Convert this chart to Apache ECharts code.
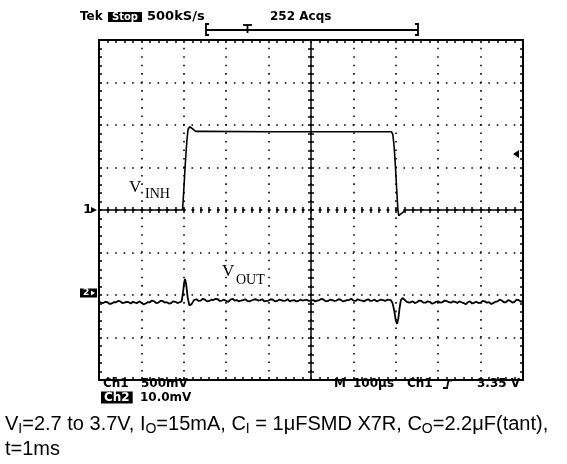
<!DOCTYPE html>
<html>
<head>
<meta charset="utf-8">
<script src="https://cdn.jsdelivr.net/npm/echarts@6/dist/echarts.min.js"></script>
<style>
html,body{margin:0;padding:0;background:#fff}
#main{width:567px;height:464px}
</style>
</head>
<body>
<div id="main"></div>
<script>
// horizontal: time in us (100us/div), vertical: screen divisions
var timeRange = [0, 1000, 100];
var divRange = [-4, 4, 1];

// Ch1 trace (V_INH), [us, div]
var vinhData = [
    [0, 0], [197, 0], [199, 0.3], [203, 1.0], [207, 1.6], [210, 1.9], [214, 1.96], [218, 1.99],
    [222, 1.9], [228, 1.85], [240, 1.85], [400, 1.84], [600, 1.84], [690, 1.84], [693, 1.78],
    [696, 1.5], [699, 1.05], [702, 0.5], [705, 0.0], [707, -0.13], [711, -0.12], [715, -0.07],
    [722, 0], [1000, 0]
];

// Ch2 trace (V_OUT), [us, div]
var voutData = [
    [0, -2.16], [5, -2.18], [10, -2.19], [15, -2.16], [20, -2.17], [25, -2.21], [30, -2.2], [35, -2.17],
    [40, -2.17], [45, -2.14], [50, -2.15], [55, -2.19], [60, -2.18], [65, -2.16], [70, -2.17],
    [75, -2.2], [80, -2.16], [85, -2.18], [90, -2.19], [95, -2.15], [100, -2.18], [105, -2.22],
    [110, -2.2], [115, -2.17], [120, -2.17], [125, -2.13], [130, -2.15], [135, -2.19], [140, -2.18],
    [145, -2.14], [150, -2.14], [155, -2.18], [160, -2.17], [165, -2.2], [170, -2.19], [175, -2.15],
    [180, -2.16], [185, -2.19], [190, -2.17], [195, -2.15],
    [198, -1.95], [201, -1.7], [203, -1.62], [206, -1.78], [209, -2.05], [213, -2.24], [218, -2.22],
    [224, -2.12], [230, -2.1], [235, -2.14], [240, -2.13], [245, -2.09], [250, -2.11], [255, -2.15],
    [260, -2.14], [265, -2.11], [270, -2.12], [275, -2.09], [280, -2.1], [285, -2.14], [290, -2.13],
    [295, -2.11], [300, -2.14], [305, -2.16], [310, -2.11], [315, -2.09], [320, -2.13], [325, -2.12],
    [330, -2.15], [335, -2.13], [340, -2.12], [345, -2.1], [350, -2.14], [355, -2.15], [360, -2.13],
    [365, -2.11], [370, -2.1], [375, -2.13], [380, -2.12], [385, -2.1], [390, -2.15], [395, -2.14],
    [400, -2.13], [405, -2.1], [410, -2.11], [415, -2.15], [420, -2.14], [425, -2.11], [430, -2.12],
    [435, -2.14], [440, -2.13], [445, -2.1], [450, -2.15], [455, -2.13], [460, -2.12], [465, -2.15],
    [470, -2.14], [475, -2.11], [480, -2.13], [485, -2.12], [490, -2.11], [495, -2.14], [500, -2.13],
    [505, -2.12], [510, -2.15], [515, -2.13], [520, -2.12], [525, -2.09], [530, -2.11], [535, -2.15],
    [540, -2.14], [545, -2.11], [550, -2.12], [555, -2.14], [560, -2.13], [565, -2.1], [570, -2.11],
    [575, -2.15], [580, -2.14], [585, -2.12], [590, -2.12], [595, -2.09], [600, -2.13], [605, -2.14],
    [610, -2.1], [615, -2.12], [620, -2.13], [625, -2.15], [630, -2.12], [635, -2.1], [640, -2.14],
    [645, -2.13], [650, -2.11], [655, -2.15], [660, -2.13], [665, -2.11], [670, -2.12], [675, -2.14],
    [680, -2.11], [684, -2.13], [688, -2.12],
    [692, -2.18], [696, -2.35], [700, -2.6], [703, -2.68], [706, -2.55], [709, -2.3], [712, -2.12],
    [716, -2.07], [720, -2.1], [726, -2.16], [732, -2.18], [736, -2.14], [740, -2.15], [745, -2.19],
    [750, -2.17], [755, -2.13], [760, -2.14], [765, -2.18], [770, -2.18], [775, -2.15], [780, -2.16],
    [785, -2.2], [790, -2.19], [795, -2.16], [800, -2.15], [805, -2.18], [810, -2.17], [815, -2.13],
    [820, -2.14], [825, -2.17], [830, -2.18], [835, -2.15], [840, -2.16], [845, -2.19], [850, -2.15],
    [855, -2.17], [860, -2.19], [865, -2.22], [870, -2.17], [875, -2.15], [880, -2.2], [885, -2.18],
    [890, -2.16], [895, -2.19], [900, -2.18], [905, -2.14], [910, -2.15], [915, -2.18], [920, -2.17],
    [925, -2.21], [930, -2.19], [935, -2.16], [940, -2.15], [945, -2.11], [950, -2.13], [955, -2.17],
    [960, -2.17], [965, -2.12], [970, -2.14], [975, -2.18], [980, -2.16], [985, -2.11], [990, -2.12],
    [995, -2.16], [1000, -2.14]
];

var scopeFont = 'bold 12px "DejaVu Sans"';
var serif = '"Liberation Serif", "DejaVu Serif", serif';
var sans = '"Liberation Sans", Arial, sans-serif';

function makeAxis(dim, pos, offset, inside, showLine, lineType) {
    var r = dim == 'x' ? timeRange : divRange;
    return {
        type: 'value',
        position: pos,
        offset: offset,
        min: r[0],
        max: r[1],
        interval: r[2],
        axisLine: {show: showLine, onZero: false, lineStyle: {color: '#000', width: 2, type: lineType || 'solid'}},
        axisTick: {show: true, inside: inside, length: 3, lineStyle: {color: '#000', width: 1.5}},
        minorTick: {show: true, splitNumber: 5, length: 3, lineStyle: {color: '#000', width: 1.5}},
        axisLabel: {show: false},
        splitLine: {show: false}
    };
}

var dotted = {show: true, lineStyle: {color: '#000', width: 1.6, type: [1.6, 6.88], dashOffset: 0.8}};

var xAxes = [
    makeAxis('x', 'bottom', 0, true, true),
    makeAxis('x', 'top', 0, true, true),
    makeAxis('x', 'bottom', -170, true, true, [1.6, 6.88]),
    makeAxis('x', 'bottom', -170, false, false)
];
xAxes[0].splitLine = dotted;
var yAxes = [
    makeAxis('y', 'left', 0, true, true),
    makeAxis('y', 'right', 0, true, true),
    makeAxis('y', 'left', -212, true, true),
    makeAxis('y', 'left', -212, false, false)
];
yAxes[0].splitLine = dotted;
yAxes[2].axisLine.lineStyle.width = 1.5;
xAxes[2].axisLine.lineStyle.width = 1.6;

function txt(x, y, s, font, fill) {
    return {type: 'text', x: x, y: y, z: 100,
        style: {text: s, font: font || scopeFont, fill: fill || '#000', verticalAlign: 'middle'}};
}
function boxTxt(x, y, s, font, pad) {
    return {type: 'text', x: x, y: y, z: 100,
        style: {text: s, font: font || scopeFont, fill: '#fff', backgroundColor: '#000',
            padding: pad || [0, 3, 0, 3], verticalAlign: 'middle'}};
}
function seg(pts, w) {
    return {type: 'polyline', z: 100, shape: {points: pts}, style: {stroke: '#000', lineWidth: w || 1.8, fill: null}};
}
function tri(pts, fill) {
    return {type: 'polygon', z: 100, shape: {points: pts}, style: {fill: fill || '#000'}};
}

var capRich = {
    n: {font: '20px ' + sans, fill: '#000'},
    s: {font: '14px ' + sans, fill: '#000', padding: [11, 0, 0, 0]}
};

var graphics = [
    txt(80, 17, 'Tek'),
    boxTxt(108, 17, 'Stop', 'bold 10px "DejaVu Sans"', [0, 4, 0, 4]),
    txt(147, 17, '500kS/s', 'bold 13px "DejaVu Sans"'),
    txt(270, 17, '252 Acqs'),
    seg([[209, 24], [206, 24], [206, 35], [209, 35]]),
    seg([[206, 30], [418, 30]]),
    seg([[415, 24], [418, 24], [418, 35], [415, 35]]),
    seg([[243, 25], [252, 25]]),
    seg([[247.5, 25], [247.5, 33]]),
    txt(83, 210, '1', 'bold 13px "DejaVu Sans"'),
    tri([[91, 207], [97, 210], [91, 213]]),
    {type: 'rect', z: 100, shape: {x: 80, y: 288.5, width: 17, height: 9}, style: {fill: '#000'}},
    txt(83, 293, '2', 'bold 9px "DejaVu Sans"', '#fff'),
    tri([[91, 290.5], [95, 293], [91, 295.5]], '#fff'),
    tri([[513, 154], [519, 150], [519, 158]]),
    txt(129, 188, 'V', '17px ' + serif),
    txt(145, 194, 'INH', '14px ' + serif),
    txt(222, 272, 'V', '17px ' + serif),
    txt(236, 280, 'OUT', '14px ' + serif),
    txt(103, 384, 'Ch1'),
    txt(141, 384, '500mV'),
    boxTxt(101, 397.5, 'Ch2'),
    txt(140, 397.5, '10.0mV'),
    txt(334, 384, 'M'),
    txt(353, 384, '100µs'),
    txt(407, 384, 'Ch1'),
    seg([[443, 388], [447, 388], [448.5, 380.5], [452, 380.5]]),
    txt(477, 384, '3.35 V'),
    {type: 'text', x: 5, y: 424, z: 100, style: {
        text: '{n|V}{s|I}{n|=2.7 to 3.7V, I}{s|O}{n|=15mA, C}{s|I}{n| = 1μFSMD X7R, C}{s|O}{n|=2.2μF(tant),}',
        rich: capRich, verticalAlign: 'middle'}},
    txt(5, 449, 't=1ms', '20px ' + sans)
];

var myChart = echarts.init(document.getElementById('main'));
var option = {
    animation: false,
    backgroundColor: '#fff',
    grid: {left: 99, top: 40, width: 424, height: 340},
    xAxis: xAxes,
    yAxis: yAxes,
    series: [
        {type: 'line', data: vinhData, symbol: 'none', z: 5, lineStyle: {color: '#000', width: 1.6}},
        {type: 'line', data: voutData, symbol: 'none', z: 5, lineStyle: {color: '#000', width: 1.8}}
    ],
    graphic: graphics
};
myChart.setOption(option);
</script>
</body>
</html>
